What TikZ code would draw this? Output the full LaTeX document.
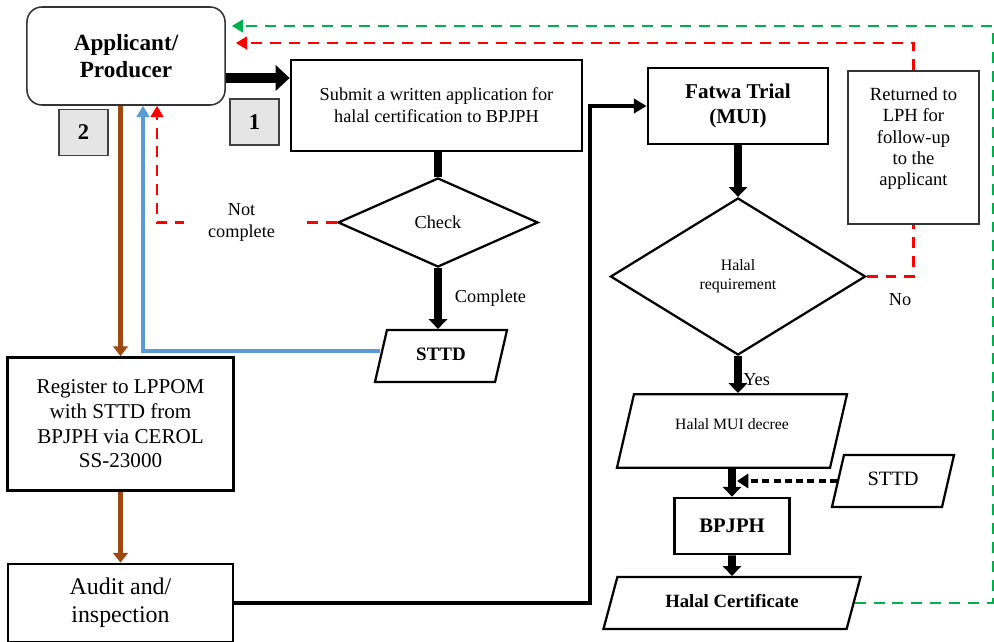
\documentclass[tikz,border=0pt]{standalone}
\usepackage{fontspec}
\setmainfont{Liberation Serif}
\usetikzlibrary{shapes.geometric,arrows.meta,calc}
\definecolor{brownline}{HTML}{9C4A12}
\definecolor{blueline}{HTML}{5B9BD5}
\definecolor{greenline}{HTML}{00B050}

\begin{document}
\begin{tikzpicture}[x=0.025cm,y=-0.025cm,
appnode/.style={draw=black!80, line width=1.1pt, rounded corners=0.375cm, align=center, minimum width=4.95cm, minimum height=2.45cm, font=\fontsize{16.5}{19}\selectfont\bfseries},
boxnode/.style={draw=black, line width=1.9pt, align=center, inner sep=2pt},
numnode/.style={draw=black!75, fill=black!10, line width=0.8pt, minimum width=1.225cm, minimum height=1.15cm, font=\fontsize{16}{18}\selectfont\bfseries},
decisionnode/.style={diamond, draw=black, line width=1.6pt, inner sep=0pt, align=center},
datanode/.style={trapezium, trapezium left angle=77, trapezium right angle=103, trapezium stretches body, draw=black, line width=1.6pt, inner xsep=1pt, text height=8pt, text depth=2pt, inner ysep=#1, align=center},
fatarrow/.style={line width=5.5pt, -{Triangle[length=7pt,width=13pt]}},
brownarrow/.style={brownline, line width=4pt, -{Triangle[length=7pt,width=10.5pt]}},
reddash/.style={red, line width=1.8pt, dash pattern=on 7.8pt off 5.6pt},
greendash/.style={greenline, line width=1.8pt, dash pattern=on 7.8pt off 5.6pt},
lbl/.style={text=black, font=\fontsize{13}{15}\selectfont, align=center}
]
    \useasboundingbox (0,0) rectangle (994,642);

    \node[appnode] (app) at (126,56) {Applicant/\\Producer};
    \node[numnode] (two) at (83.5,132.5) {2};
    \node[numnode] (one) at (254.5,122) {1};

    \node[boxnode, minimum width=7.275cm, minimum height=2.275cm, font=\fontsize{13}{15.5}\selectfont] (submit) at (436.5,105.5) {Submit a written application for\\halal certification to BPJPH};
    \node[decisionnode, minimum width=5cm, minimum height=2.225cm, font=\fontsize{13}{15}\selectfont] (check) at (438,222.5) {Check};
    \node[datanode=13.45pt, minimum width=3.3cm, font=\fontsize{13.5}{16}\selectfont\bfseries] (sttd) at (441,356) {STTD};

    \node[boxnode, minimum width=5.65cm, minimum height=3.325cm, font=\fontsize{15}{17.5}\selectfont] (register) at (120.5,424) {Register to LPPOM\\with STTD from\\BPJPH via CEROL\\SS-23000};
    \node[boxnode, minimum width=5.625cm, minimum height=1.95cm, font=\fontsize{17}{20}\selectfont] (audit) at (120.5,603) {Audit and/\\inspection};

    \node[boxnode, minimum width=4.5cm, minimum height=1.9cm, font=\fontsize{15}{18}\selectfont\bfseries] (fatwa) at (738,106) {Fatwa Trial\\(MUI)};
    \node[decisionnode, minimum width=6.375cm, minimum height=3.925cm, font=\fontsize{11.3}{13.5}\selectfont] (halal) at (738,276.5) {Halal\\requirement};
    \node[boxnode, draw=black!80, line width=1.1pt, minimum width=3.275cm, minimum height=3.825cm, font=\fontsize{13.2}{15.2}\selectfont] (returned) at (913.5,147.5) {Returned to\\LPH for\\follow-up\\to the\\applicant\\\mbox{}};

    \node[datanode=16.95pt, text depth=10.5pt, minimum width=5.75cm, font=\fontsize{11.2}{13}\selectfont] (decree) at (732,431) {Halal MUI decree};
    \node[datanode=13.45pt, minimum width=3.05cm, font=\fontsize{14.5}{17}\selectfont] (sttdb) at (893,481) {STTD};
    \node[boxnode, minimum width=2.875cm, minimum height=1.4cm, font=\fontsize{14.7}{17}\selectfont\bfseries] (bpjph) at (732,526) {BPJPH};
    \node[datanode=13.45pt, trapezium left angle=75, trapezium right angle=105, minimum width=6.425cm, font=\fontsize{13.3}{16}\selectfont\bfseries] (cert) at (732,603) {Halal Certificate};

    \coordinate (a1) at ($(app.east)+(0,22)$);
    \draw[line width=7pt, -{Triangle[length=10pt,width=18pt]}] (a1) -- (a1 -| submit.west);
    \draw[line width=5.5pt] (submit.south -| check.north) -- (check.north);
    \draw[fatarrow] (check.south) --node[lbl, right=6pt]{Complete} (check.south |- sttd.north);
    \coordinate (b1) at ($(sttd.west)+(0,-5)$);
    \draw[blueline, line width=2.4pt, -{Triangle[length=8pt,width=9pt]}] (b1) -| ([xshift=0.425cm]app.south);
    \draw[reddash, -{Triangle[length=8pt,width=9pt]}] (check.west) -| node[lbl, pos=0.265, fill=white, inner xsep=17pt]{Not\\complete} ([xshift=0.775cm]app.south);

    \draw[brownarrow] (app.south -| register.north) -- (register.north);
    \draw[brownarrow] (register.south) -- (audit.north);

    \coordinate (turn) at (590,0);
    \draw[line width=3pt, -{Triangle[length=9pt,width=10pt]}] (audit.east) -- (audit.east -| turn) -- (turn |- fatwa.west) -- (fatwa.west);

    \draw[fatarrow] (fatwa.south) -- (halal.north);
    \draw[fatarrow] (halal.south) --node[lbl, right, inner sep=1pt, pos=0.64]{Yes} (halal.south |- decree.north);
    \draw[reddash] (halal.east) -| (returned.south);
    \node[lbl] (no) at (900,300) {No};
    \coordinate (redin) at ($(app.east)+(10,-13)$);
    \draw[reddash, -{Triangle[length=8pt,width=9pt]}] (returned.north) |- (redin);

    \draw[fatarrow] (decree.south) -- (bpjph.north);
    \coordinate (dashin) at (737,0);
    \draw[line width=2.2pt, dash pattern=on 5pt off 3pt, -{Triangle[length=8pt,width=10pt]}] (sttdb.west) -- (sttdb.west -| dashin);
    \draw[fatarrow] (bpjph.south) -- (cert.north);

    \coordinate (gcorner) at (993,0);
    \coordinate (greenin) at ($(app.east)+(6,-30)$);
    \draw[greendash, -{Triangle[length=8pt,width=9pt]}] (cert.east) -- (cert.east -| gcorner) -- (gcorner |- greenin) -- (greenin);
\end{tikzpicture}
\end{document}
